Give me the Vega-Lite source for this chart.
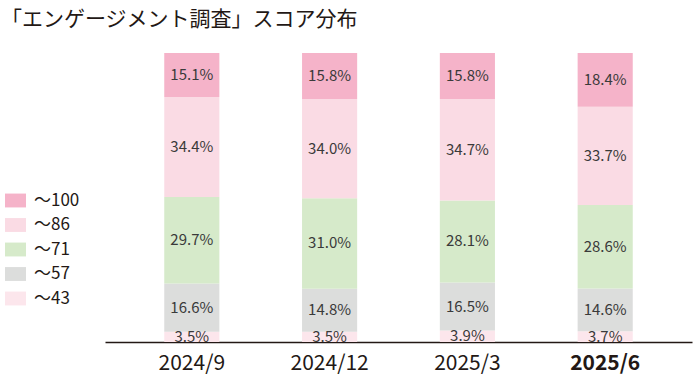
{
  "$schema": "https://vega.github.io/schema/vega-lite/v6.json",
  "width": 587,
  "height": 289,
  "autosize": {"type": "none"},
  "padding": {"left": 105, "top": 53, "right": 8, "bottom": 34},
  "background": "#ffffff",
  "config": {
    "font": "Noto Sans CJK JP",
    "view": {"stroke": null}
  },
  "title": {
    "text": "「エンゲージメント調査」スコア分布",
    "anchor": "start",
    "frame": "group",
    "dx": -104,
    "offset": 23,
    "fontSize": 21,
    "fontWeight": "normal",
    "color": "#231815",
    "font": "Noto Sans CJK JP"
  },
  "data": {
    "values": [
      {"date": "2024/9", "cat": "～43", "ord": 1, "value": 0.035},
      {"date": "2024/9", "cat": "～57", "ord": 2, "value": 0.166},
      {"date": "2024/9", "cat": "～71", "ord": 3, "value": 0.297},
      {"date": "2024/9", "cat": "～86", "ord": 4, "value": 0.344},
      {"date": "2024/9", "cat": "～100", "ord": 5, "value": 0.151},
      {"date": "2024/12", "cat": "～43", "ord": 1, "value": 0.035},
      {"date": "2024/12", "cat": "～57", "ord": 2, "value": 0.148},
      {"date": "2024/12", "cat": "～71", "ord": 3, "value": 0.310},
      {"date": "2024/12", "cat": "～86", "ord": 4, "value": 0.340},
      {"date": "2024/12", "cat": "～100", "ord": 5, "value": 0.158},
      {"date": "2025/3", "cat": "～43", "ord": 1, "value": 0.039},
      {"date": "2025/3", "cat": "～57", "ord": 2, "value": 0.165},
      {"date": "2025/3", "cat": "～71", "ord": 3, "value": 0.281},
      {"date": "2025/3", "cat": "～86", "ord": 4, "value": 0.347},
      {"date": "2025/3", "cat": "～100", "ord": 5, "value": 0.158},
      {"date": "2025/6", "cat": "～43", "ord": 1, "value": 0.037},
      {"date": "2025/6", "cat": "～57", "ord": 2, "value": 0.146},
      {"date": "2025/6", "cat": "～71", "ord": 3, "value": 0.286},
      {"date": "2025/6", "cat": "～86", "ord": 4, "value": 0.337},
      {"date": "2025/6", "cat": "～100", "ord": 5, "value": 0.184}
    ]
  },
  "encoding": {
    "x": {
      "field": "date",
      "type": "nominal",
      "sort": ["2024/9", "2024/12", "2025/3", "2025/6"],
      "scale": {"paddingInner": 0.6, "paddingOuter": 0.43},
      "axis": {
        "title": null,
        "labelAngle": 0,
        "ticks": false,
        "domainColor": "#231815",
        "domainWidth": 1.5,
        "labelFontSize": 21,
        "labelColor": "#231815",
        "labelPadding": 10,
        "labelFontWeight": {"condition": {"test": "datum.value === '2025/6'", "value": "bold"}, "value": "normal"}
      }
    }
  },
  "layer": [
    {
      "mark": {"type": "bar"},
      "encoding": {
        "y": {"field": "value", "type": "quantitative", "stack": "normalize", "axis": null},
        "order": {"field": "ord", "type": "quantitative", "sort": "ascending"},
        "color": {
          "field": "cat",
          "type": "nominal",
          "scale": {
            "domain": ["～100", "～86", "～71", "～57", "～43"],
            "range": ["#F5B3C9", "#FADBE4", "#D6EACA", "#DCDDDC", "#FCE6EC"]
          },
          "legend": {
            "title": null,
            "orient": "none",
            "legendX": -100,
            "legendY": 137,
            "symbolType": "M-1,-0.66L1,-0.66L1,0.66L-1,0.66Z",
            "symbolSize": 441,
            "symbolStrokeWidth": 0,
            "labelFontSize": 17,
            "labelColor": "#231815",
            "labelOffset": 8,
            "rowPadding": 5.5
          }
        }
      }
    },
    {
      "mark": {"type": "text", "fontSize": 15, "color": "#3a3a3a"},
      "encoding": {
        "y": {"field": "value", "type": "quantitative", "stack": "normalize", "bandPosition": 0.5},
        "order": {"field": "ord", "type": "quantitative", "sort": "ascending"},
        "detail": {"field": "cat"},
        "text": {"field": "value", "type": "quantitative", "format": ".1%"}
      }
    }
  ]
}
